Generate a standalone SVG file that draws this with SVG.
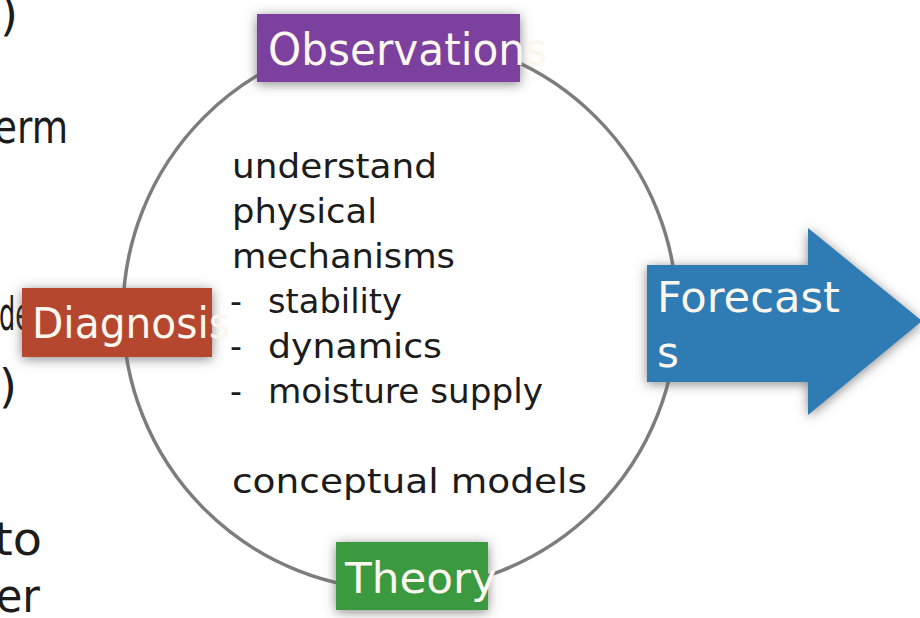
<svg xmlns="http://www.w3.org/2000/svg" width="920" height="618" viewBox="0 0 920 618">
<defs>
<filter id="shadow" x="-30%" y="-40%" width="160%" height="180%">
<feDropShadow dx="0" dy="2" stdDeviation="6" flood-color="#555" flood-opacity="0.7"/>
</filter>
<style>
.body{font-family:"DejaVu Sans","Liberation Sans",sans-serif;font-size:33px;fill:#1c1c1c}
.side{font-family:"DejaVu Sans","Liberation Sans",sans-serif;font-size:46px;fill:#1c1c1c}
.label{font-family:"DejaVu Sans","Liberation Sans",sans-serif;fill:#fbf6ee}
</style>
</defs>
<rect width="920" height="618" fill="#ffffff"/>
<g id="background-text">
<text class="side" x="18" y="30" text-anchor="end">)</text>
<text class="side" x="68" y="143" text-anchor="end" textLength="74" lengthAdjust="spacingAndGlyphs">erm</text>
<text class="side" x="-1" y="330" textLength="32" lengthAdjust="spacingAndGlyphs">de</text>
<text class="side" x="17" y="402" text-anchor="end">)</text>
<text class="side" x="42" y="555" text-anchor="end" textLength="48" lengthAdjust="spacingAndGlyphs">to</text>
<text class="side" x="40" y="612" text-anchor="end" textLength="44" lengthAdjust="spacingAndGlyphs">er</text>
</g>
<g id="connectors">
<circle cx="400" cy="313" r="277" fill="none" stroke="#7d7d7d" stroke-width="3.5"/>
</g>
<g id="center-text">
<text class="body" x="232" y="178" textLength="205" lengthAdjust="spacingAndGlyphs">understand</text>
<text class="body" x="232" y="223" textLength="145" lengthAdjust="spacingAndGlyphs">physical</text>
<text class="body" x="232" y="268" textLength="223" lengthAdjust="spacingAndGlyphs">mechanisms</text>
<text class="body" x="230" y="313">-</text>
<text class="body" x="268" y="313" textLength="134" lengthAdjust="spacingAndGlyphs">stability</text>
<text class="body" x="230" y="358">-</text>
<text class="body" x="268" y="358" textLength="174" lengthAdjust="spacingAndGlyphs">dynamics</text>
<text class="body" x="230" y="403">-</text>
<text class="body" x="268" y="403" textLength="275" lengthAdjust="spacingAndGlyphs">moisture supply</text>
<text class="body" x="232" y="493" textLength="355" lengthAdjust="spacingAndGlyphs">conceptual models</text>
</g>
<g id="observations">
<rect x="257" y="14" width="263" height="68" fill="#7b3f9e" filter="url(#shadow)"/>
<text class="label" x="268" y="65" font-size="44" textLength="279" lengthAdjust="spacingAndGlyphs">Observations</text>
</g>
<g id="diagnosis">
<rect x="22" y="288" width="190" height="69" fill="#b5472f" filter="url(#shadow)"/>
<text class="label" x="32" y="338" font-size="42" textLength="198" lengthAdjust="spacingAndGlyphs">Diagnosis</text>
</g>
<g id="theory">
<rect x="336" y="542" width="152" height="68" fill="#3b9a3f" filter="url(#shadow)"/>
<text class="label" x="345" y="593" font-size="42" textLength="152" lengthAdjust="spacingAndGlyphs">Theory</text>
</g>
<g id="forecasts">
<polygon points="647,265 808,265 808,228 922,321 808,415 808,382 647,382" fill="#2d7cb3" filter="url(#shadow)"/>
<text class="label" x="657" y="312" font-size="42" textLength="183" lengthAdjust="spacingAndGlyphs">Forecast</text>
<text class="label" x="657" y="367" font-size="42">s</text>
</g>
</svg>
